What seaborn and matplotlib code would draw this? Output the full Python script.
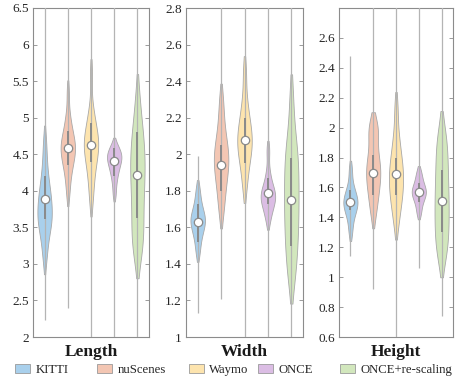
import numpy as np
import pandas as pd
import matplotlib
matplotlib.use("Agg")
import matplotlib.pyplot as plt
import seaborn as sns
from matplotlib.patches import Patch

datasets = ["KITTI", "nuScenes", "Waymo", "ONCE", "ONCE+re-scaling"]
colors = ["#a9d0ec", "#f3c6b3", "#fde4ae", "#dbbde4", "#d2e7bd"]

# ---- sample values describing each violin's shape ----
length_kitti = [3.05, 3.2, 3.34, 3.43, 3.5, 3.56, 3.6, 3.64, 3.68, 3.73, 3.8, 3.86, 3.9, 3.95, 4.02, 4.1, 4.2, 4.32, 4.5, 4.7]
length_nusc = [3.95, 4.12, 4.25, 4.33, 4.4, 4.45, 4.5, 4.55, 4.58, 4.62, 4.66, 4.7, 4.76, 4.83, 4.92, 5.05, 5.35]
length_waymo = [3.85, 4.05, 4.2, 4.32, 4.4, 4.48, 4.55, 4.6, 4.64, 4.68, 4.74, 4.8, 4.88, 4.98, 5.12, 5.6]
length_once = [3.95, 4.1, 4.2, 4.27, 4.32, 4.37, 4.41, 4.44, 4.47, 4.5, 4.53, 4.57, 4.63]
length_resc = [3.1, 3.22, 3.34, 3.46, 3.58, 3.72, 3.85, 3.98, 4.1, 4.2, 4.3, 4.4, 4.5, 4.6, 4.72, 4.85, 5.0, 5.3]

width_kitti = [1.46, 1.52, 1.56, 1.59, 1.61, 1.63, 1.645, 1.66, 1.68, 1.71, 1.75, 1.81]
width_nusc = [1.68, 1.76, 1.82, 1.87, 1.91, 1.94, 1.97, 2.0, 2.03, 2.07, 2.12, 2.2, 2.3]
width_waymo = [1.82, 1.91, 1.97, 2.01, 2.04, 2.07, 2.1, 2.13, 2.17, 2.22, 2.3, 2.45]
width_once = [1.64, 1.69, 1.72, 1.745, 1.76, 1.775, 1.79, 1.81, 1.84, 1.9, 2.02]
width_resc = [1.32, 1.4, 1.48, 1.55, 1.61, 1.67, 1.73, 1.79, 1.85, 1.91, 1.97, 2.03, 2.1, 2.3]

height_kitti = [1.3, 1.38, 1.43, 1.46, 1.48, 1.5, 1.52, 1.54, 1.57, 1.62, 1.72]
height_nusc = [1.42, 1.5, 1.56, 1.61, 1.65, 1.69, 1.72, 1.76, 1.8, 1.86, 1.97, 1.99, 2.01]
height_waymo = [1.36, 1.46, 1.52, 1.57, 1.61, 1.66, 1.7, 1.74, 1.79, 1.86, 1.95, 2.13]
height_once = [1.43, 1.49, 1.53, 1.55, 1.57, 1.59, 1.61, 1.65, 1.7]
height_resc = [1.13, 1.19, 1.26, 1.32, 1.38, 1.44, 1.5, 1.56, 1.62, 1.69, 1.76, 1.83, 1.9, 1.98]

# ---- summary statistics (whisker low/high, quartiles, median) ----
length_lo = [2.23, 2.4, 1.9, 1.9, 1.9]
length_hi = [6.7, 6.7, 6.7, 6.7, 6.7]
length_q1 = [3.62, 4.35, 4.4, 4.2, 3.63]
length_q3 = [4.2, 4.82, 4.93, 4.58, 4.8]
length_med = [3.89, 4.58, 4.62, 4.41, 4.21]

width_lo = [1.13, 1.21, 0.9, 0.9, 0.9]
width_hi = [1.99, 2.9, 2.9, 2.9, 2.9]
width_q1 = [1.52, 1.8, 1.95, 1.73, 1.5]
width_q3 = [1.73, 2.05, 2.2, 1.87, 1.98]
width_med = [1.63, 1.94, 2.08, 1.79, 1.75]

height_lo = [1.14, 0.92, 0.5, 1.06, 0.74]
height_hi = [2.48, 2.9, 2.9, 2.9, 2.9]
height_q1 = [1.45, 1.55, 1.55, 1.5, 1.3]
height_q3 = [1.58, 1.82, 1.8, 1.63, 1.72]
height_med = [1.5, 1.7, 1.69, 1.57, 1.51]

panels = [
    ("Length", [length_kitti, length_nusc, length_waymo, length_once, length_resc],
     (length_lo, length_hi, length_q1, length_q3, length_med), (2, 6.5), np.arange(2, 6.51, 0.5),
     ["2", "2.5", "3", "3.5", "4", "4.5", "5", "5.5", "6", "6.5"]),
    ("Width", [width_kitti, width_nusc, width_waymo, width_once, width_resc],
     (width_lo, width_hi, width_q1, width_q3, width_med), (1, 2.8), np.arange(1, 2.81, 0.2),
     ["1", "1.2", "1.4", "1.6", "1.8", "2", "2.2", "2.4", "2.6", "2.8"]),
    ("Height", [height_kitti, height_nusc, height_waymo, height_once, height_resc],
     (height_lo, height_hi, height_q1, height_q3, height_med), (0.6, 2.8), np.arange(0.6, 2.61, 0.2),
     ["0.6", "0.8", "1", "1.2", "1.4", "1.6", "1.8", "2", "2.2", "2.4", "2.6"]),
]

sns.set_theme(style="white")
plt.rcParams["font.family"] = ["Liberation Serif", "DejaVu Serif"]

fig = plt.figure(figsize=(4.55, 3.81), dpi=100)
rects = [[33 / 455, 44 / 381, 116 / 455, 329 / 381],
         [186 / 455, 44 / 381, 117 / 455, 329 / 381],
         [339 / 455, 44 / 381, 114 / 455, 329 / 381]]

spine_c = "#8c8c8c"
for rect, (name, samples, stats, ylim, ticks, ticklabels) in zip(rects, panels):
    ax = fig.add_axes(rect)
    rows = []
    for d, vals in zip(datasets, samples):
        rows += [(d, v) for v in vals]
    df = pd.DataFrame(rows, columns=["dataset", "value"])
    sns.violinplot(data=df, x="dataset", y="value", hue="dataset", order=datasets,
                   hue_order=datasets, palette=colors, saturation=1, legend=False,
                   inner=None, cut=1.1, density_norm="width", width=0.62,
                   linewidth=0.6, linecolor="#a8a8a8", bw_adjust=0.75, ax=ax)
    lo, hi, q1, q3, med = stats
    pos = np.arange(len(datasets))
    ax.vlines(pos, lo, hi, color="#b4b4b4", lw=0.9, zorder=3)
    ax.vlines(pos, q1, q3, color="#8a8a8a", lw=1.4, zorder=4)
    ax.plot(pos, med, "o", ms=6, mfc="white", mec="#8a8a8a", mew=0.9, zorder=5, ls="none")
    ax.set_xlim(-0.5, 4.5)
    ax.set_ylim(*ylim)
    ax.set_yticks(ticks)
    ax.set_yticklabels(ticklabels)
    ax.set_xticks([])
    ax.set_xlabel(name, fontsize=12.5, fontweight="bold", labelpad=5, color="#1a1a1a")
    ax.set_ylabel("")
    for s in ax.spines.values():
        s.set_color(spine_c)
        s.set_linewidth(0.8)
        s.set_visible(True)
    ax.tick_params(axis="y", direction="in", length=3, width=0.6, color=spine_c,
                   left=True, right=True, labelsize=9.5, labelcolor="#262626", pad=3)

legend_x = [15, 97, 189, 258, 340]
for x, d, c in zip(legend_x, datasets, colors):
    fig.legend(handles=[Patch(facecolor=c, edgecolor="#9a9a9a", linewidth=0.6, label=d)],
               loc="center left", bbox_to_anchor=(x / 455, 1 - 370 / 381), frameon=False,
               fontsize=9.2, handlelength=1.2, handleheight=0.75, handletextpad=0.4,
               borderpad=0, borderaxespad=0)

fig.savefig("out.png", dpi=100)
